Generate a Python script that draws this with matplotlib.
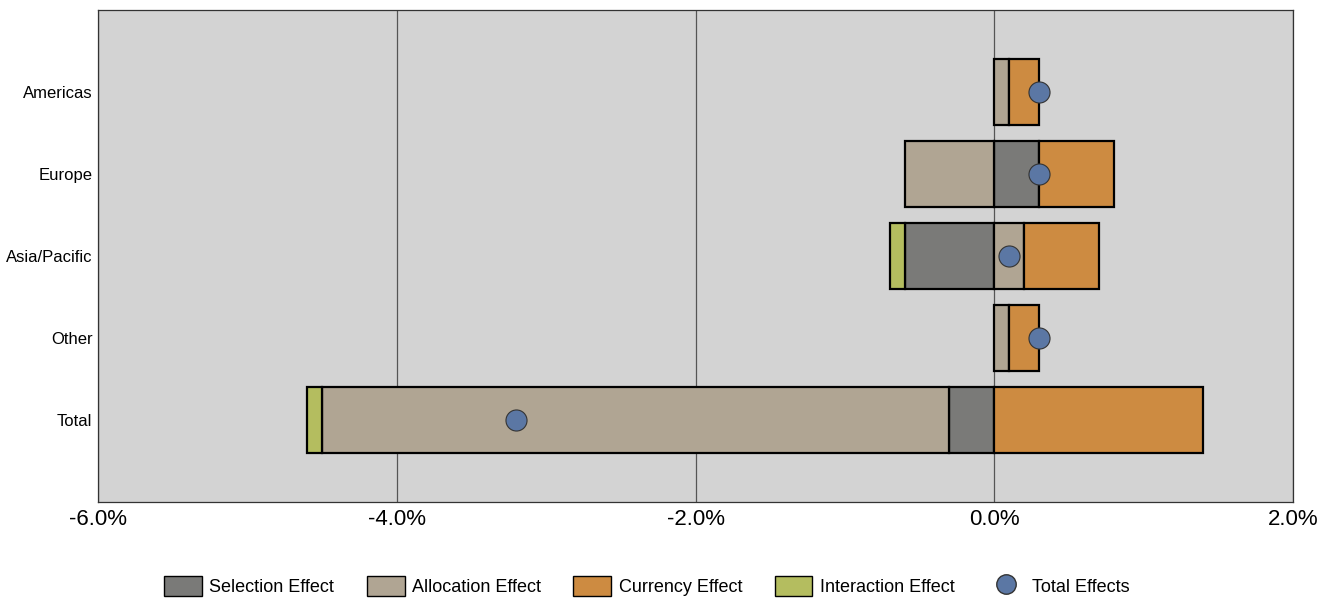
import numpy as np
from matplotlib import pyplot as plt
from matplotlib.patches import Patch
from matplotlib.lines import Line2D
from matplotlib.ticker import FuncFormatter

regions = ["Americas", "Europe", "Asia/Pacific", "Other", "Total"]
selection = [0.0, 0.3, -0.6, 0.0, -0.3]
allocation = [0.1, -0.6, 0.2, 0.1, -4.2]
currency = [0.2, 0.5, 0.5, 0.2, 1.4]
interaction = [0.0, 0.0, -0.1, 0.0, -0.1]
total_effects = [0.3, 0.3, 0.1, 0.3, -3.2]

colors = {"Selection Effect": "#7a7a78", "Allocation Effect": "#b0a593",
          "Currency Effect": "#cd8b41", "Interaction Effect": "#b4bd5f"}

plt.rcParams['font.family'] = ['Liberation Sans', 'DejaVu Sans']

fig = plt.figure(figsize=(13.31, 5.99), dpi=100)
ax = fig.add_axes([98 / 1331, 1 - 502 / 599, (1293 - 98) / 1331, 492 / 599])
ax.set_facecolor("#d3d3d3")

y = np.arange(len(regions))
pos = np.zeros(len(regions))
neg = np.zeros(len(regions))
for name, vals in [("Selection Effect", selection), ("Allocation Effect", allocation),
                   ("Currency Effect", currency), ("Interaction Effect", interaction)]:
    vals = np.array(vals)
    left = np.where(vals >= 0, pos, neg)
    mask = vals != 0
    ax.barh(y[mask], vals[mask], left=left[mask], height=0.8, color=colors[name],
            edgecolor="black", linewidth=1.6, zorder=3)
    pos = pos + np.where(vals > 0, vals, 0)
    neg = neg + np.where(vals < 0, vals, 0)

ax.scatter(total_effects, y, s=230, color="#5b77a4", edgecolor="#333333",
           linewidth=0.8, zorder=5)

ax.set_xlim(-6, 2)
ax.set_ylim(5, -1)
ax.set_xticks([-6, -4, -2, 0, 2])
ax.xaxis.set_major_formatter(FuncFormatter(lambda v, p: "%.1f%%" % v))
ax.set_yticks(y)
ax.set_yticklabels(regions, fontsize=12)
ax.tick_params(axis="x", labelsize=16, length=0, pad=5)
ax.tick_params(axis="y", length=0, pad=4)
ax.grid(axis="x", color="#555555", linewidth=0.9, zorder=1)
for s in ax.spines.values():
    s.set_color("#333333")
    s.set_linewidth(0.9)

handles = [Patch(facecolor=c, edgecolor="black", label=n) for n, c in colors.items()]
handles.append(Line2D([], [], marker="o", linestyle="none", markersize=14,
                      markerfacecolor="#5b77a4", markeredgecolor="#333333",
                      label="Total Effects"))
fig.legend(handles=handles, loc="center", bbox_to_anchor=(647 / 1331, 1 - 586 / 599),
           ncol=5, frameon=False, fontsize=13, handlelength=2.1, handleheight=1.3,
           columnspacing=1.8, handletextpad=0.4)

plt.savefig("out.png", dpi=100)
